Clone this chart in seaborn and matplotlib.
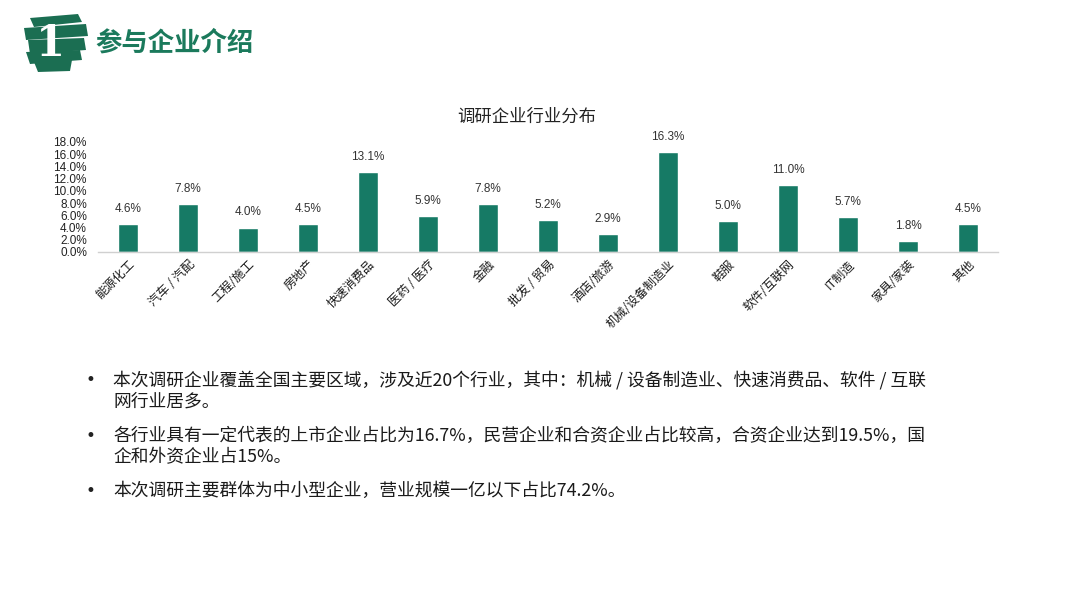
import matplotlib
matplotlib.use("Agg")
import matplotlib.pyplot as plt
import seaborn as sns
import pandas as pd
from matplotlib.patches import Polygon

categories = ["能源化工", "汽车 / 汽配", "工程/施工", "房地产", "快速消费品", "医药 / 医疗", "金融",
              "批发 / 贸易", "酒店/旅游", "机械/设备制造业", "鞋服", "软件/互联网", "IT制造", "家具/家装", "其他"]
values = [4.6, 7.8, 4.0, 4.5, 13.1, 5.9, 7.8, 5.2, 2.9, 16.3, 5.0, 11.0, 5.7, 1.8, 4.5]
y_ticks = [0, 2, 4, 6, 8, 10, 12, 14, 16, 18]
chart_title = "调研企业行业分布"
header_title = "参与企业介绍"
header_num = "1"
bullets = [
    "本次调研企业覆盖全国主要区域，涉及近20个行业，其中：机械 / 设备制造业、快速消费品、软件 / 互联\n网行业居多。",
    "各行业具有一定代表的上市企业占比为16.7%，民营企业和合资企业占比较高，合资企业达到19.5%，国\n企和外资企业占15%。",
    "本次调研主要群体为中小型企业，营业规模一亿以下占比74.2%。",
]

sns.set_theme(style="white")
plt.rcParams['font.family'] = ['Noto Sans CJK SC', 'DejaVu Sans']
NUMFONT = ['Liberation Sans', 'Noto Sans CJK SC']

GREEN = "#167a65"
W, H = 1067, 600
fig = plt.figure(figsize=(W / 100, H / 100), dpi=100)
fig.patch.set_facecolor("white")

# chart axes in pixel coordinates
left, right, top, bottom = 98, 998, 142, 252
ax = fig.add_axes([left / W, 1 - bottom / H, (right - left) / W, (bottom - top) / H])

df = pd.DataFrame({"category": categories, "value": values})
sns.barplot(data=df, x="category", y="value", color=GREEN, saturation=1, width=0.32, ax=ax)
ax.set_ylim(0, 18)
ax.set_yticks(y_ticks)
ax.set_yticklabels([f"{t:.1f}%" for t in y_ticks], fontsize=8.5, color="#222222", family=NUMFONT)
ax.set_xlabel("")
ax.set_ylabel("")
ax.set_xticks(range(len(categories)))
ax.set_xticklabels(categories, rotation=45, ha="right", rotation_mode="anchor", fontsize=8.8,
                   color="#1a1a1a", family=['Noto Sans CJK SC', 'DejaVu Sans'])
ax.tick_params(axis="x", length=0, pad=4)
ax.tick_params(axis="y", length=0, pad=8)
for s in ["top", "right", "left"]:
    ax.spines[s].set_visible(False)
ax.spines["bottom"].set_color("#d0d0d0")
ax.spines["bottom"].set_linewidth(1)
ax.set_xlim(-0.5, len(categories) - 0.5)
for i, v in enumerate(values):
    ax.text(i, v + 1.5, f"{v:.1f}%", ha="center", va="bottom", fontsize=8.5, color="#333333",
            family=NUMFONT)
ax.set_facecolor("none")

# chart title
fig.text(527 / W, 1 - 117 / H, chart_title, ha="center", va="center", fontsize=12.5, color="#222222")

# header logo: brush-like green streaks with white number
streaks = [
    [(30, 18), (78, 14), (82, 22), (34, 27)],
    [(24, 28), (86, 24), (88, 36), (26, 40)],
    [(28, 40), (84, 38), (86, 50), (30, 54)],
    [(26, 52), (80, 50), (82, 60), (30, 64)],
    [(34, 62), (72, 60), (70, 71), (38, 72)],
]
for pts in streaks:
    fig.patches.append(Polygon([(x / W, 1 - y / H) for x, y in pts], closed=True,
                               transform=fig.transFigure, facecolor="#1b6e52", edgecolor="none"))
fig.text(50 / W, 1 - 44 / H, header_num, ha="center", va="center", fontsize=30,
         fontweight="bold", color="white", family="DejaVu Serif")
fig.text(95 / W, 1 - 43 / H, header_title, ha="left", va="center", fontsize=19,
         fontweight="bold", color="#1b7a5c")

# bullets
ys = [380, 436, 491]
for y, b in zip(ys, bullets):
    fig.text(86 / W, 1 - y / H, "•", ha="left", va="center", fontsize=12, color="#222222",
             family="DejaVu Sans")
    fig.text(113 / W, 1 - (y - 9) / H, b, ha="left", va="top", fontsize=12.8, color="#1a1a1a",
             linespacing=1.22)

fig.savefig("out.png", dpi=100, facecolor="white")
